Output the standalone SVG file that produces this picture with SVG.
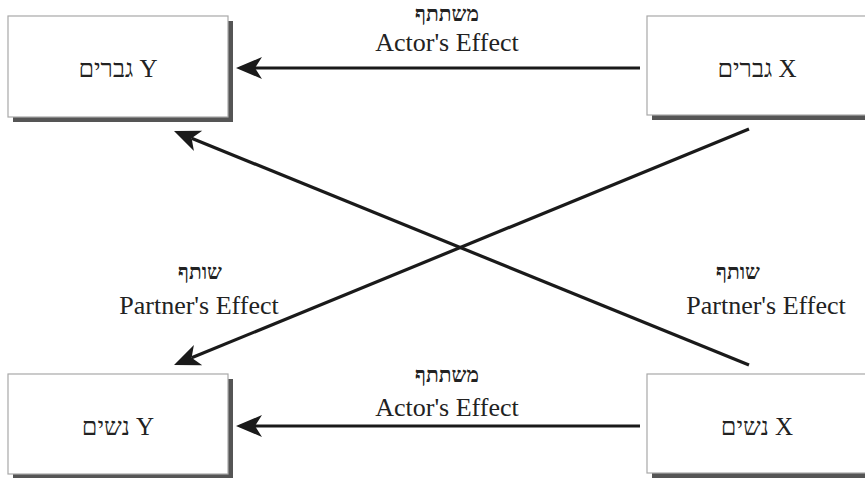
<svg xmlns="http://www.w3.org/2000/svg" width="865" height="478" viewBox="0 0 865 478">
<style>
.box{fill:#fff;stroke:#a8a8a8;stroke-width:1.2}
.shadow{fill:#555}
.lbl{font-family:"Liberation Serif","Times New Roman",serif;font-size:26px;fill:#222;text-anchor:middle}
.name{font-family:"Liberation Serif","Times New Roman",serif;font-size:25px;fill:#222;text-anchor:middle}
.heb{font-family:"Liberation Serif","DejaVu Serif",serif;font-size:21px;font-weight:bold;fill:#222;text-anchor:middle}
.conn{stroke:#1a1a1a;stroke-width:3.2;fill:none}
</style>
<defs>
<marker id="arr" markerUnits="userSpaceOnUse" viewBox="-8 -12 28 24" refX="0" refY="0" markerWidth="28" markerHeight="24" orient="auto">
<path d="M19,0 L-7,-11 L0,0 L-7,11 Z" fill="#1a1a1a"/>
</marker>
</defs>
<rect width="865" height="478" fill="#fff"/>
<g id="men-y">
<rect class="shadow" x="13" y="21" width="220" height="101"/>
<rect class="box" x="8" y="16" width="220" height="101"/>
<text class="name" x="118" y="77">גברים Y</text>
</g>
<g id="men-x">
<rect class="shadow" x="652" y="20" width="222" height="100"/>
<rect class="box" x="647" y="16" width="222" height="99"/>
<text class="name" x="757" y="77">גברים X</text>
</g>
<g id="women-y">
<rect class="shadow" x="13" y="379" width="220" height="100"/>
<rect class="box" x="8" y="374" width="220" height="100"/>
<text class="name" x="118" y="435">נשים Y</text>
</g>
<g id="women-x">
<rect class="shadow" x="652" y="378" width="222" height="100"/>
<rect class="box" x="647" y="374" width="222" height="99"/>
<text class="name" x="757" y="435">נשים X</text>
</g>
<g id="connectors">
<line class="conn" x1="640" y1="68" x2="255" y2="68" marker-end="url(#arr)"/>
<line class="conn" x1="640" y1="426" x2="255" y2="426" marker-end="url(#arr)"/>
<line class="conn" x1="749" y1="365" x2="191.6" y2="138.2" marker-end="url(#arr)"/>
<line class="conn" x1="749" y1="129" x2="191.6" y2="357.8" marker-end="url(#arr)"/>
</g>
<g id="labels">
<text class="heb" x="447" y="21">משתתף</text>
<text class="lbl" x="447" y="51">Actor's Effect</text>
<text class="heb" x="447" y="382">משתתף</text>
<text class="lbl" x="447" y="416">Actor's Effect</text>
<text class="heb" x="200" y="279">שותף</text>
<text class="lbl" x="199" y="314">Partner's Effect</text>
<text class="heb" x="738" y="279">שותף</text>
<text class="lbl" x="766" y="314">Partner's Effect</text>
</g>
</svg>
